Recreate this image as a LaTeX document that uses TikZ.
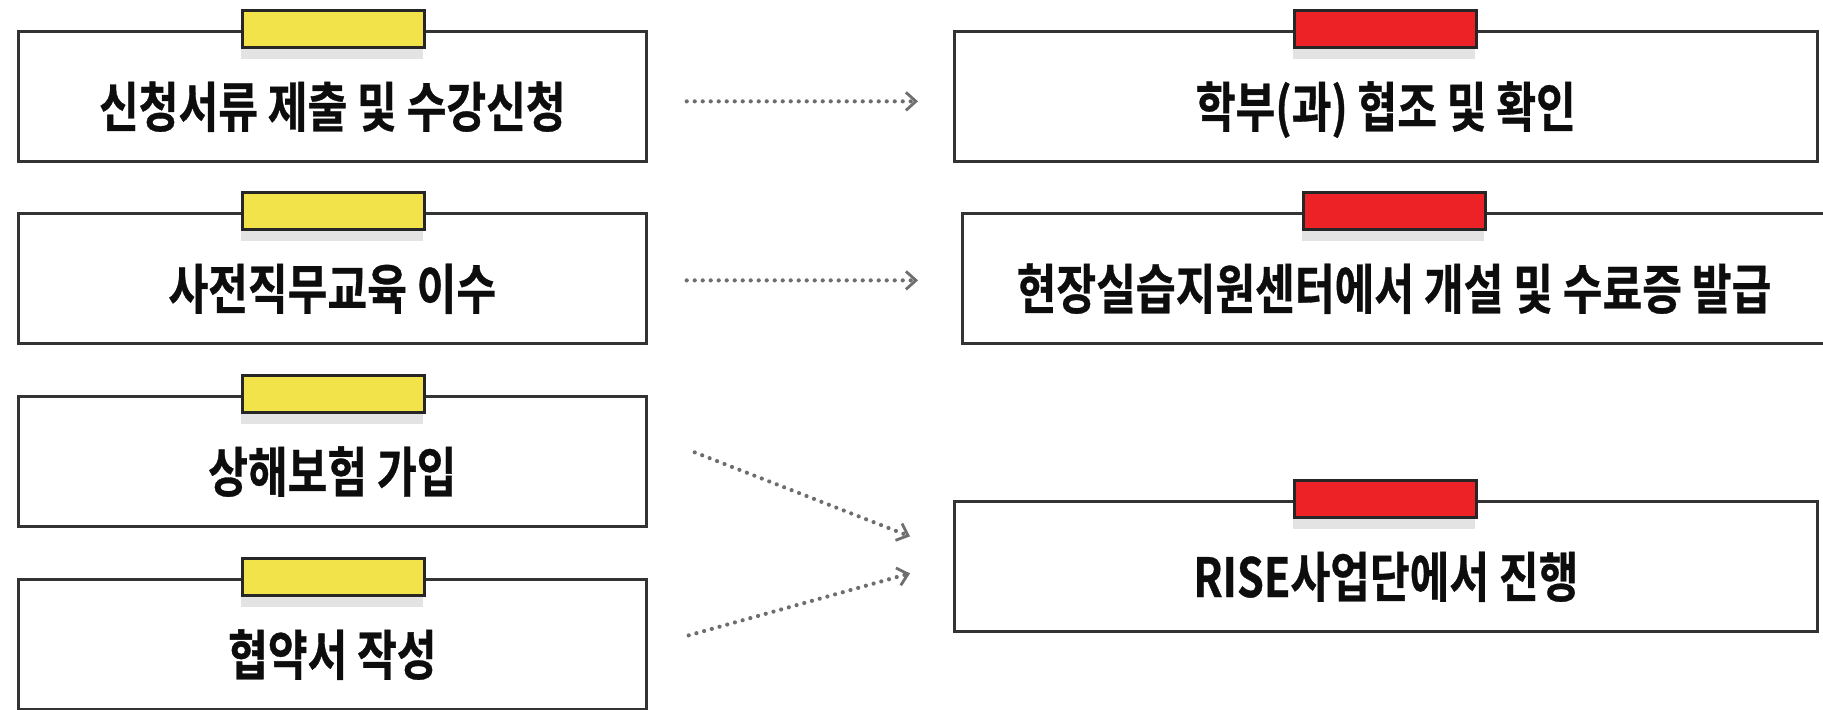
\documentclass[tikz,border=0pt]{standalone}
\usepackage{fontspec}
\newfontfamily\kr[FakeStretch=0.8,BoldFont={* Bold},BoldFeatures={FakeBold=0.6}]{Noto Sans CJK KR}
\usetikzlibrary{arrows.meta,calc}
\definecolor{boxc}{HTML}{333333}
\definecolor{tabc}{HTML}{262626}
\definecolor{yel}{HTML}{F3E34B}
\definecolor{redt}{HTML}{EC2227}
\definecolor{arrc}{HTML}{6E6E6E}
\definecolor{shad}{HTML}{E3E3E3}
\tikzset{
  box/.style={draw=boxc, line width=1.35pt, fill=white, inner sep=0pt, anchor=north west, minimum height=65pt},
  lbox/.style={box, minimum width=314pt},
  rbox/.style={box, minimum width=431.5pt},
  tabbox/.style={draw=tabc, line width=1.5pt, inner sep=0pt, anchor=north west, minimum width=91pt, minimum height=18.5pt},
  ytab/.style={tabbox, fill=yel},
  rtab/.style={tabbox, fill=redt},
  shadowbox/.style={fill=shad, inner sep=0pt, anchor=north west, minimum width=91pt, minimum height=6.5pt},
  label/.style={anchor=base, font=\kr\bfseries\fontsize{27pt}{30pt}\selectfont, text=black!95, inner sep=0pt},
  conn/.style={draw=arrc, line width=2.1pt, line cap=round, dash pattern=on 0pt off 4pt, -{Straight Barb[length=5pt,width=9pt,line width=1.4pt]}}
}
\begin{document}
\begin{tikzpicture}[x=0.5pt,y=-0.5pt]
\useasboundingbox (0,0) rectangle (1823,709);
\clip (0,0) rectangle (1823,709);
% left boxes
\node[lbox] (b1) at (17,30) {};
\node[shadowbox] (s1) at (241,46) {};
\node[ytab] (t1) at (241,9) {};
\node[label] (x1) at ($(b1.north)+(0,97)$) {신청서류 제출 및 수강신청};

\node[lbox] (b2) at (17,212) {};
\node[shadowbox] (s2) at (241,228) {};
\node[ytab] (t2) at (241,191) {};
\node[label] (x2) at ($(b2.north)+(0,97)$) {사전직무교육 이수};

\node[lbox] (b3) at (17,395) {};
\node[shadowbox] (s3) at (241,411) {};
\node[ytab] (t3) at (241,374) {};
\node[label] (x3) at ($(b3.north)+(0,97)$) {상해보험 가입};

\node[lbox] (b4) at (17,578) {};
\node[shadowbox] (s4) at (241,594) {};
\node[ytab] (t4) at (241,557) {};
\node[label] (x4) at ($(b4.north)+(0,97)$) {협약서 작성};

% right boxes
\node[rbox] (r1) at (953,30) {};
\node[shadowbox] (rs1) at (1293,46) {};
\node[rtab] (rt1) at (1293,9) {};
\node[label] (y1) at ($(r1.north)+(0,97)$) {학부(과) 협조 및 확인};

\node[box, minimum width=440pt] (r2) at (961,212) {};
\node[shadowbox] (rs2) at (1302,228) {};
\node[rtab] (rt2) at (1302,191) {};
\node[label] (y2) at ($(r2.north west)+(433,97)$) {현장실습지원센터에서 개설 및 수료증 발급};

\node[rbox] (r3) at (953,500) {};
\node[shadowbox] (rs3) at (1293,516) {};
\node[rtab] (rt3) at (1293,479) {};
\node[label] (y3) at ($(r3.north)+(0,97)$) {RISE사업단에서 진행};

% connectors
\draw[conn] ($(b1.east)+(39,5)$) -- ($(r1.west)+(-35,5)$);
\draw[conn] ($(b2.east)+(39,2)$) -- ($(r2.west)+(-43,2)$);
\draw[conn] ($(b3.east)+(47,-9)$) -- ($(r3.west)+(-43,-30)$);
\draw[conn] ($(b4.east)+(41,-9)$) -- ($(r3.west)+(-43,7)$);
\end{tikzpicture}
\end{document}
